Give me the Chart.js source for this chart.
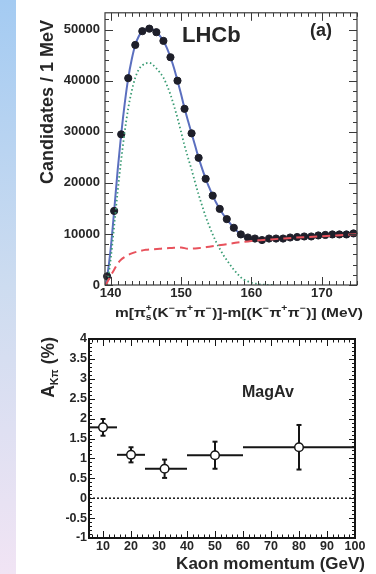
<!DOCTYPE html>
<html>
<head>
<meta charset="utf-8">
<script src="https://cdn.jsdelivr.net/npm/chart.js@4.4.0/dist/chart.umd.min.js"></script>
<style>
    html, body { margin: 0; padding: 0; width: 376px; height: 574px; overflow: hidden; background: #fff; }
    .franja { position: absolute; left: 0; top: 0; width: 16px; height: 574px;
        background: linear-gradient(#a4cbf2, #cddcf0 50%, #f1e4f4); }
    canvas { position: absolute; left: 0; }
    #graphMasa { top: 0; }
    #graphAsim { top: 322px; }
</style>
</head>
<body>
<div class="franja"></div>
<canvas id="graphMasa" width="376" height="322"></canvas>
<canvas id="graphAsim" width="376" height="252"></canvas>
<script>
/*******************************************DATOS**************************************************************************/
// Grafica (a): candidatos por 1 MeV
const masaX = [139.5, 140.5, 141.5, 142.5, 143.5, 144.5, 145.5, 146.5, 147.5, 148.5, 149.5, 150.5, 151.5, 152.5, 153.5, 154.5, 155.5, 156.5, 157.5, 158.5, 159.5, 160.5, 161.5, 162.5, 163.5, 164.5, 165.5, 166.5, 167.5, 168.5, 169.5, 170.5, 171.5, 172.5, 173.5, 174.5];
const candidatos = [1700, 14500, 29500, 40500, 47000, 49700, 50200, 49500, 47800, 44600, 40000, 34500, 29700, 24900, 20800, 17500, 14900, 12900, 11200, 9900, 9300, 9100, 8800, 9100, 9100, 9100, 9300, 9400, 9500, 9500, 9700, 9800, 9900, 9900, 9900, 10100];

// ajuste total (linea azul)
const ajusteX = [139.3, 139.5, 140, 140.5, 141, 141.5, 142, 142.5, 143, 143.5, 144, 144.5, 145, 145.5, 146, 146.5, 147, 147.5, 148, 148.5, 149, 149.5, 150, 150.5, 151, 151.5, 152, 152.5, 153, 153.5, 154, 154.5, 155, 155.5, 156, 156.5, 157, 157.5, 158, 158.5, 159, 159.5, 160, 160.5, 161, 161.5, 162, 163, 164, 166, 168, 170, 172, 175];
const ajusteTotal = [0, 1500, 7000, 14500, 22500, 29500, 35500, 40500, 44200, 47000, 48700, 49700, 50100, 50200, 50000, 49500, 48800, 47800, 46400, 44600, 42500, 40000, 37400, 34600, 32100, 29700, 27300, 24900, 22800, 20800, 19100, 17500, 16100, 14900, 13800, 12900, 12000, 11200, 10500, 9900, 9500, 9200, 9000, 8900, 8850, 8850, 8900, 8950, 9050, 9250, 9450, 9600, 9750, 10000];

// senal (linea verde punteada)
const senalX = [139.5, 140, 140.5, 141, 141.5, 142, 142.5, 143, 143.5, 144, 144.5, 145, 145.5, 146, 146.5, 147, 147.5, 148, 148.5, 149, 149.5, 150, 150.5, 151, 151.5, 152, 152.5, 153, 153.5, 154, 154.5, 155, 155.5, 156, 156.5, 157, 157.5, 158, 158.5, 159, 159.5, 160, 160.5, 161, 162, 163];
const senal = [0, 5000, 11500, 18300, 24500, 30000, 34600, 38000, 40600, 42200, 43000, 43400, 43500, 43100, 42400, 41600, 40600, 39100, 37300, 35100, 32700, 30000, 27300, 24900, 22600, 20100, 17700, 15500, 13400, 11600, 9900, 8400, 7100, 5900, 4900, 3900, 3000, 2200, 1500, 1000, 700, 450, 300, 150, 50, 0];

// fondo (linea roja discontinua)
const fondoX = [139.3, 139.5, 140, 140.5, 141, 141.5, 142, 143, 144, 145, 146, 147, 148, 149, 150, 151, 152, 153, 154, 155, 156, 157, 158, 159, 160, 161, 162, 164, 166, 168, 170, 172, 175];
const fondo = [0, 500, 1800, 3000, 4200, 5000, 5500, 6200, 6600, 6900, 7000, 7100, 7200, 7300, 7350, 7100, 7150, 7300, 7500, 7700, 7900, 8100, 8300, 8450, 8600, 8750, 8850, 9050, 9250, 9400, 9550, 9700, 9950];

const ticksMasaX = [140, 150, 160, 170];
const ticksMasaY = [0, 10000, 20000, 30000, 40000, 50000];

// Grafica de abajo: A_Kpi frente al momento del kaon
const momentoCentro = [10, 20, 32, 50, 80];
const binInicio = [5, 15, 25, 40, 60];
const binFin = [15, 25, 40, 60, 100];
const asimetria = [1.78, 1.09, 0.74, 1.08, 1.28];
const errorAsim = [0.21, 0.19, 0.23, 0.34, 0.56];

const ticksMomento = [10, 20, 30, 40, 50, 60, 70, 80, 90, 100];
const ticksAsim = [-1, -0.5, 0, 0.5, 1, 1.5, 2, 2.5, 3, 3.5, 4];
/**************************************************************************************************************************/

const FAMILIA = "'Liberation Sans', Arial, Helvetica, sans-serif";
function fuente(tam) {
    return "bold " + tam + "px " + FAMILIA;
}

// Texto con subindices y superindices
function anchoTrozos(ctx, trozos, tam, tamPeq) {
    let w = 0;
    trozos.forEach((tr) => {
        if (typeof tr === "string") {
            ctx.font = fuente(tam);
            w += ctx.measureText(tr).width;
        } else {
            ctx.font = fuente(tamPeq);
            const a = tr.sup ? ctx.measureText(tr.sup).width : 0;
            const b = tr.sub ? ctx.measureText(tr.sub).width : 0;
            w += Math.max(a, b) + 0.5;
        }
    });
    return w;
}

function pintarTrozos(ctx, trozos, x, y, tam, tamPeq) {
    let cx = x;
    trozos.forEach((tr) => {
        if (typeof tr === "string") {
            ctx.font = fuente(tam);
            ctx.fillText(tr, cx, y);
            cx += ctx.measureText(tr).width;
        } else {
            ctx.font = fuente(tamPeq);
            let w = 0;
            if (tr.sup) {
                ctx.fillText(tr.sup, cx, y - tam * 0.42);
                w = ctx.measureText(tr.sup).width;
            }
            if (tr.sub) {
                ctx.fillText(tr.sub, cx, y + tam * 0.25);
                w = Math.max(w, ctx.measureText(tr.sub).width);
            }
            cx += w + 0.5;
        }
    });
}

// Marco y marcas de los ejes hacia dentro (estilo ROOT)
function marcoPlugin(op) {
    return {
        id: "marco",
        afterDraw(chart) {
            const ctx = chart.ctx;
            const a = chart.chartArea;
            const sx = chart.scales.x;
            const sy = chart.scales.y;
            ctx.save();
            ctx.strokeStyle = op.color;
            ctx.lineWidth = op.anchoMarcas;
            ctx.beginPath();
            for (let k = Math.ceil(sx.min / op.x.paso - 1e-9); k * op.x.paso <= sx.max + 1e-9; k++) {
                const px = Math.round(sx.getPixelForValue(k * op.x.paso)) + 0.5;
                const len = k % op.x.cada === 0 ? op.x.largo : op.x.corto;
                ctx.moveTo(px, a.bottom);
                ctx.lineTo(px, a.bottom - len);
                ctx.moveTo(px, a.top);
                ctx.lineTo(px, a.top + len);
            }
            for (let k = Math.ceil(sy.min / op.y.paso - 1e-9); k * op.y.paso <= sy.max + 1e-9; k++) {
                const py = Math.round(sy.getPixelForValue(k * op.y.paso)) + 0.5;
                const len = k % op.y.cada === 0 ? op.y.largo : op.y.corto;
                ctx.moveTo(a.left, py);
                ctx.lineTo(a.left + len, py);
                ctx.moveTo(a.right, py);
                ctx.lineTo(a.right - len, py);
            }
            ctx.stroke();
            ctx.lineWidth = op.anchoMarco;
            ctx.strokeRect(a.left, a.top, a.right - a.left, a.bottom - a.top);
            ctx.restore();
        },
    };
}

// Textos fijos de cada grafica
function textosPlugin(pintar) {
    return {
        id: "textos",
        afterDraw(chart) {
            const ctx = chart.ctx;
            ctx.save();
            ctx.fillStyle = "#262626";
            ctx.textBaseline = "alphabetic";
            ctx.textAlign = "left";
            pintar(ctx);
            ctx.restore();
        },
    };
}

function ejeTicks(valores) {
    return (scale) => {
        scale.ticks = valores.map((v) => ({ value: v }));
    };
}

/*******************************************GRAFICA MASA*******************************************************************/
function graficaMasa() {
    const canvas = document.getElementById("graphMasa").getContext("2d");
    const puntos = masaX.map((x, i) => ({ x: x, y: candidatos[i] }));
    const total = ajusteX.map((x, i) => ({ x: x, y: ajusteTotal[i] }));
    const sen = senalX.map((x, i) => ({ x: x, y: senal[i] }));
    const fon = fondoX.map((x, i) => ({ x: x, y: fondo[i] }));

    const tituloX = ["m[π", { sup: "+", sub: "s" }, "(K", { sup: "−" }, "π", { sup: "+" }, "π", { sup: "−" },
        ")]-m[(K", { sup: "−" }, "π", { sup: "+" }, "π", { sup: "−" }, ")] (MeV)"];

    new Chart(canvas, {
        type: "scatter",
        data: {
            datasets: [
                {
                    label: "fondo",
                    data: fon,
                    showLine: true,
                    borderColor: "#e8525c",
                    borderWidth: 2,
                    borderDash: [8, 5],
                    pointRadius: 0,
                    cubicInterpolationMode: "monotone",
                },
                {
                    label: "senal",
                    data: sen,
                    showLine: true,
                    borderColor: "#3a9c74",
                    borderWidth: 1.8,
                    borderDash: [1.5, 2.5],
                    pointRadius: 0,
                    cubicInterpolationMode: "monotone",
                },
                {
                    label: "datos",
                    data: puntos,
                    backgroundColor: "#1e1f2a",
                    borderColor: "#1e1f2a",
                    pointRadius: 3.6,
                    clip: false,
                },
                {
                    label: "ajuste",
                    data: total,
                    showLine: true,
                    borderColor: "#5b6fbf",
                    borderWidth: 2,
                    pointRadius: 0,
                    cubicInterpolationMode: "monotone",
                },
            ],
        },
        options: {
            responsive: false,
            animation: false,
            layout: { padding: { top: 8, right: 19, left: 0, bottom: 0 } },
            plugins: { legend: { display: false }, tooltip: { enabled: false } },
            scales: {
                x: {
                    type: "linear",
                    min: 139.2,
                    max: 175,
                    afterBuildTicks: ejeTicks(ticksMasaX),
                    afterFit: (s) => { s.height = 37; },
                    grid: { display: false, drawTicks: false },
                    border: { display: false },
                    ticks: { font: { family: FAMILIA, size: 13, weight: "bold" }, color: "#262626", padding: 1, maxRotation: 0, autoSkip: false },
                },
                y: {
                    min: 0,
                    max: 53300,
                    afterBuildTicks: ejeTicks(ticksMasaY),
                    afterFit: (s) => { s.width = 105; },
                    grid: { display: false, drawTicks: false },
                    border: { display: false },
                    ticks: { font: { family: FAMILIA, size: 13, weight: "bold" }, color: "#262626", padding: 5, autoSkip: false, callback: (v) => String(v) },
                },
            },
        },
        plugins: [
            marcoPlugin({
                color: "#3a3a3a", anchoMarcas: 1, anchoMarco: 1.2,
                x: { paso: 1, cada: 10, largo: 8, corto: 4 },
                y: { paso: 2000, cada: 5, largo: 8, corto: 4 },
            }),
            textosPlugin((ctx) => {
                ctx.font = fuente(22);
                ctx.fillText("LHCb", 182, 42);
                ctx.font = fuente(18);
                ctx.textAlign = "right";
                ctx.fillText("(a)", 332, 36);
                ctx.textAlign = "left";
                // titulo eje x, algo ensanchado como en el original (de x=115 a x=363)
                const w = anchoTrozos(ctx, tituloX, 13.5, 9);
                ctx.save();
                ctx.translate(115, 317);
                ctx.scale(248 / w, 1);
                pintarTrozos(ctx, tituloX, 0, 0, 13.5, 9);
                ctx.restore();
                // titulo eje y
                ctx.translate(53, 20);
                ctx.rotate(-Math.PI / 2);
                ctx.font = fuente(18);
                ctx.textAlign = "right";
                ctx.fillText("Candidates / 1 MeV", 0, 0);
            }),
        ],
    });
}
graficaMasa();
/**************************************************************************************************************************/

/*******************************************GRAFICA ASIMETRIA**************************************************************/
function graficaAsimetria() {
    const canvas = document.getElementById("graphAsim").getContext("2d");
    const negro = "#151515";

    // punto central
    const datasets = [
        {
            label: "AKpi",
            data: momentoCentro.map((x, i) => ({ x: x, y: asimetria[i] })),
            backgroundColor: "#ffffff",
            borderColor: negro,
            borderWidth: 1.5,
            pointRadius: 4.3,
            clip: false,
        },
    ];
    // barras de error verticales (con remate) y horizontales (ancho del bin)
    for (let i = 0; i < momentoCentro.length; i++) {
        datasets.push({
            label: "error" + i,
            data: [
                { x: momentoCentro[i], y: asimetria[i] - errorAsim[i] },
                { x: momentoCentro[i], y: asimetria[i] + errorAsim[i] },
            ],
            showLine: true,
            borderColor: negro,
            borderWidth: 2,
            pointStyle: "line",
            pointRadius: 2.5,
            pointBorderWidth: 2,
            pointBorderColor: negro,
        });
        datasets.push({
            label: "bin" + i,
            data: [
                { x: binInicio[i], y: asimetria[i] },
                { x: binFin[i], y: asimetria[i] },
            ],
            showLine: true,
            borderColor: negro,
            borderWidth: 2,
            pointRadius: 0,
        });
    }
    // linea del cero
    datasets.push({
        label: "cero",
        data: [{ x: 5, y: 0 }, { x: 100, y: 0 }],
        showLine: true,
        borderColor: negro,
        borderWidth: 1.5,
        borderDash: [2, 2],
        pointRadius: 0,
    });

    const tituloY = ["A", { sub: "Kπ" }, " (%)"];

    new Chart(canvas, {
        type: "scatter",
        data: { datasets: datasets },
        options: {
            responsive: false,
            animation: false,
            layout: { padding: { top: 17, right: 21, left: 0, bottom: 0 } },
            plugins: { legend: { display: false }, tooltip: { enabled: false } },
            scales: {
                x: {
                    type: "linear",
                    min: 5,
                    max: 100,
                    afterBuildTicks: ejeTicks(ticksMomento),
                    afterFit: (s) => { s.height = 36; },
                    grid: { display: false, drawTicks: false },
                    border: { display: false },
                    ticks: { font: { family: FAMILIA, size: 12.5, weight: "bold" }, color: "#262626", padding: 1, maxRotation: 0, autoSkip: false },
                },
                y: {
                    min: -1,
                    max: 4,
                    afterBuildTicks: ejeTicks(ticksAsim),
                    afterFit: (s) => { s.width = 89; },
                    grid: { display: false, drawTicks: false },
                    border: { display: false },
                    ticks: { font: { family: FAMILIA, size: 12.5, weight: "bold" }, color: "#262626", padding: 2, autoSkip: false, callback: (v) => String(v) },
                },
            },
        },
        plugins: [
            marcoPlugin({
                color: "#151515", anchoMarcas: 1, anchoMarco: 2,
                x: { paso: 2, cada: 5, largo: 7, corto: 3.5 },
                y: { paso: 0.1, cada: 5, largo: 6, corto: 3 },
            }),
            textosPlugin((ctx) => {
                ctx.font = fuente(16);
                ctx.fillText("MagAv", 242, 75);
                ctx.font = fuente(17);
                ctx.textAlign = "right";
                ctx.fillText("Kaon momentum (GeV)", 365, 247);
                ctx.textAlign = "left";
                // titulo eje y
                const w = anchoTrozos(ctx, tituloY, 17.5, 10.5);
                ctx.translate(53.5, 15);
                ctx.rotate(-Math.PI / 2);
                pintarTrozos(ctx, tituloY, -w, 0, 17.5, 10.5);
            }),
        ],
    });
}
graficaAsimetria();
/**************************************************************************************************************************/
</script>
</body>
</html>
